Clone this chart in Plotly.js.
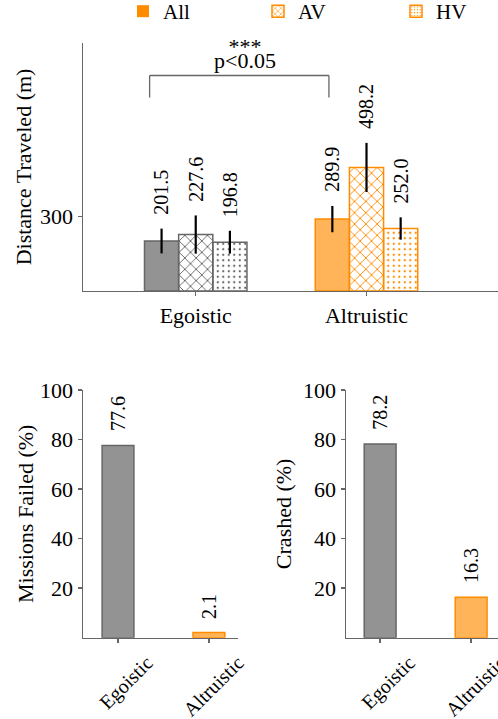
<!DOCTYPE html>
<html>
<head>
<meta charset="utf-8">
<script src="https://cdn.plot.ly/plotly-3.0.1.min.js"></script>
<style>html,body{margin:0;padding:0;background:#fff;}#chart{width:498px;height:719px;}</style>
</head>
<body>
<div id="chart"></div>
<script>
// ---- data ----
const categories = ['Egoistic', 'Altruistic'];
const seriesNames = ['All', 'AV', 'HV'];
const distAll = [201.5, 289.9];
const distAllErr = [50, 53];
const distAV = [227.6, 498.2];
const distAVErr = [77, 99];
const distHV = [196.8, 252.0];
const distHVErr = [46, 45];
const missionsFailed = [77.6, 2.1];
const crashed = [78.2, 16.3];
const distTicks = [300];
const pctTicks = [20, 40, 60, 80, 100];

// ---- styles ----
const FONT = '"Liberation Serif", "Times New Roman", serif';
const fillCols = ['#939393', '#FFB459'];
const lineCols = ['#666666', '#FF8C00'];
const AXC = '#666666';

function errCfg(arr) {
  return {type: 'data', array: arr, visible: true, color: '#000', thickness: 2.2, width: 0};
}

const traces = [
  {type: 'bar', x: categories, y: distAll, name: 'All', showlegend: false,
   marker: {color: fillCols, line: {color: lineCols, width: 1.5}},
   error_y: errCfg(distAllErr), xaxis: 'x', yaxis: 'y'},
  {type: 'bar', x: categories, y: distAV, name: 'AV', showlegend: false,
   marker: {color: lineCols, line: {color: lineCols, width: 1.5},
            pattern: {shape: 'x', size: 8, solidity: 0.22, bgcolor: 'white', fgcolor: lineCols, fillmode: 'replace'}},
   error_y: errCfg(distAVErr), xaxis: 'x', yaxis: 'y'},
  {type: 'bar', x: categories, y: distHV, name: 'HV', showlegend: false,
   marker: {color: lineCols, line: {color: lineCols, width: 1.5},
            pattern: {shape: '.', size: 5.5, solidity: 0.13, bgcolor: 'white', fgcolor: lineCols, fillmode: 'replace'}},
   error_y: errCfg(distHVErr), xaxis: 'x', yaxis: 'y'},
  {type: 'bar', x: categories, y: missionsFailed, width: 0.35, showlegend: false,
   marker: {color: fillCols, line: {color: lineCols, width: 1.5}}, xaxis: 'x2', yaxis: 'y2'},
  {type: 'bar', x: categories, y: crashed, width: 0.35, showlegend: false,
   marker: {color: fillCols, line: {color: lineCols, width: 1.5}}, xaxis: 'x3', yaxis: 'y3'},
  // legend-only entries (no drawn marks)
  {type: 'bar', x: [categories[0]], y: [null], name: seriesNames[0], showlegend: true, legend: 'legend',
   xaxis: 'x4', yaxis: 'y4',
   marker: {color: '#FF8C00', line: {color: '#FF8C00', width: 0}}},
  {type: 'bar', x: [categories[0]], y: [null], name: seriesNames[1], showlegend: true, legend: 'legend2',
   xaxis: 'x4', yaxis: 'y4',
   marker: {color: '#FF8C00', line: {color: '#FF8C00', width: 1.5},
            pattern: {shape: 'x', size: 5, solidity: 0.25, bgcolor: 'white', fgcolor: '#FF8C00'}}},
  {type: 'bar', x: [categories[0]], y: [null], name: seriesNames[2], showlegend: true, legend: 'legend3',
   xaxis: 'x4', yaxis: 'y4',
   marker: {color: '#FF8C00', line: {color: '#FF8C00', width: 1.5},
            pattern: {shape: '.', size: 3.5, solidity: 0.2, bgcolor: 'white', fgcolor: '#FF8C00'}}}
];

// value labels
const annotations = [];
const offs = [-0.2, 0, 0.2];
const topVals = [distAll, distAV, distHV];
const topErrs = [distAllErr, distAVErr, distHVErr];
topVals.forEach((vals, i) => {
  vals.forEach((v, j) => {
    annotations.push({xref: 'x', yref: 'y', x: j + offs[i], y: v + topErrs[i][j],
      text: v.toFixed(1), textangle: -90, showarrow: false, yanchor: 'bottom', yshift: 12,
      font: {family: FONT, size: 20, color: '#000'}});
  });
});
[[missionsFailed, 'x2', 'y2'], [crashed, 'x3', 'y3']].forEach(([vals, xr, yr]) => {
  vals.forEach((v, j) => {
    annotations.push({xref: xr, yref: yr, x: j, y: v, text: v.toFixed(1), textangle: -90,
      showarrow: false, yanchor: 'bottom', yshift: 12, font: {family: FONT, size: 20, color: '#000'}});
  });
});
// significance (one text block, tight line spacing)
const brL = -0.27, brR = 0.78, brLo = 780, brHi = 869;
annotations.push({xref: 'x', yref: 'y', x: 0.29, y: brHi, showarrow: false, yanchor: 'bottom', yshift: 0,
  text: '<span style="font-size:22px">***</span><br><span style="font-size:22px">p&lt;0.05</span>',
  font: {family: FONT, size: 10.5, color: '#000'}});

const shapes = [
  {type: 'line', xref: 'x', yref: 'y', x0: brL, x1: brL, y0: brLo, y1: brHi, line: {color: AXC, width: 1.3}},
  {type: 'line', xref: 'x', yref: 'y', x0: brL, x1: brR, y0: brHi, y1: brHi, line: {color: AXC, width: 1.3}},
  {type: 'line', xref: 'x', yref: 'y', x0: brR, x1: brR, y0: brLo, y1: brHi, line: {color: AXC, width: 1.3}}
];

const axBase = {showline: true, linecolor: AXC, linewidth: 1.5, ticks: 'outside', ticklen: 4,
  tickcolor: AXC, tickwidth: 1.5, showgrid: false, zeroline: false,
  tickfont: {family: FONT, size: 22, color: '#000'}};

// px = left pixel of legend text
function legendAt(px) {
  return {orientation: 'h', x: (px - 40) / 498, xanchor: 'left', y: 1.0125, yanchor: 'top',
    font: {family: FONT, size: 21, color: '#000'}, bgcolor: 'rgba(0,0,0,0)'};
}

const layout = {
  width: 498, height: 719,
  margin: {l: 0, r: 0, t: 0, b: 0, autoexpand: false},
  paper_bgcolor: '#fff', plot_bgcolor: 'rgba(0,0,0,0)',
  font: {family: FONT, color: '#000'},
  barmode: 'group', bargap: 0.4, bargroupgap: 0,
  showlegend: true,
  legend: legendAt(163),
  legend2: legendAt(298),
  legend3: legendAt(436),
  xaxis: Object.assign({}, axBase, {domain: [0.1667, 1], anchor: 'y', type: 'category',
    categoryarray: categories, range: [-0.66, 1.77]}),
  yaxis: Object.assign({}, axBase, {domain: [0.5953, 0.9402], anchor: 'x', range: [0, 1000],
    tickvals: distTicks, title: {text: 'Distance Traveled (m)', standoff: 2, font: {family: FONT, size: 22}}}),
  xaxis2: Object.assign({}, axBase, {domain: [0.1667, 0.4779], anchor: 'y2', type: 'category',
    categoryarray: categories, range: [-0.385, 1.32], ticklen: 4, tickangle: -45, ticklabelshift: 29,
    tickfont: {family: FONT, size: 20, color: '#000'}}),
  yaxis2: Object.assign({}, axBase, {domain: [0.1131, 0.4576], anchor: 'x2', range: [0, 100],
    tickvals: pctTicks, title: {text: 'Missions Failed (%)', standoff: 0, font: {family: FONT, size: 22}}}),
  xaxis3: Object.assign({}, axBase, {domain: [0.6948, 1], anchor: 'y3', type: 'category',
    categoryarray: categories, range: [-0.375, 1.295], ticklen: 4, tickangle: -45, ticklabelshift: 29,
    tickfont: {family: FONT, size: 20, color: '#000'}}),
  yaxis3: Object.assign({}, axBase, {domain: [0.1131, 0.4576], anchor: 'x3', range: [0, 100],
    tickvals: pctTicks, title: {text: 'Crashed (%)', standoff: 5, font: {family: FONT, size: 22}}}),
  xaxis4: {domain: [0, 0.01], anchor: 'y4', visible: false, type: 'category'},
  yaxis4: {domain: [0, 0.01], anchor: 'x4', visible: false},
  annotations: annotations,
  shapes: shapes
};

Plotly.newPlot('chart', traces, layout, {displayModeBar: false, staticPlot: true});
</script>
</body>
</html>
